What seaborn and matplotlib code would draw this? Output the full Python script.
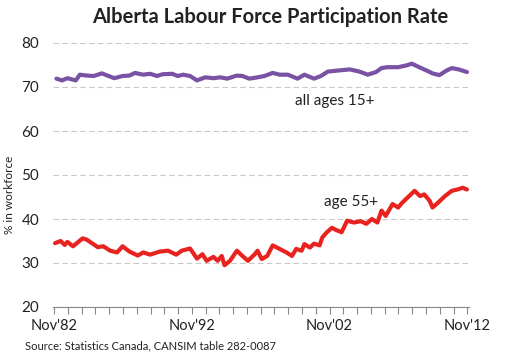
import pandas as pd
import numpy as np
import matplotlib
matplotlib.use('Agg')
import matplotlib.pyplot as plt
import seaborn as sns

# Alberta participation rate (decimal years)
years_all = [1983.0, 1983.4, 1983.8, 1984.4, 1984.7, 1985.2, 1985.7, 1986.3, 1986.7, 1987.2,
             1987.8, 1988.3, 1988.7, 1989.3, 1989.8, 1990.3, 1990.7, 1991.4, 1991.8, 1992.2,
             1992.7, 1993.2, 1993.8, 1994.4, 1994.9, 1995.4, 1996.1, 1996.5, 1997.0, 1997.6,
             1998.1, 1998.7, 1999.2, 1999.8, 2000.5, 2001.0, 2001.7, 2002.2, 2002.7, 2003.3,
             2004.3, 2005.0, 2005.6, 2006.2, 2006.6, 2007.0, 2007.8, 2008.4, 2008.8, 2009.2,
             2009.9, 2010.3, 2010.8, 2011.3, 2011.7, 2012.2, 2012.8]
rate_all = [71.9, 71.5, 72.0, 71.5, 72.8, 72.6, 72.5, 73.1, 72.6, 72.0,
            72.5, 72.6, 73.2, 72.8, 73.0, 72.5, 72.9, 73.0, 72.5, 72.8,
            72.5, 71.5, 72.2, 72.0, 72.2, 71.9, 72.6, 72.5, 71.9, 72.2,
            72.5, 73.2, 72.8, 72.8, 71.9, 72.8, 71.9, 72.5, 73.5, 73.7,
            74.0, 73.5, 72.8, 73.4, 74.3, 74.5, 74.5, 74.9, 75.3, 74.7,
            73.7, 73.1, 72.7, 73.7, 74.3, 74.0, 73.4]

years_55 = [1982.9, 1983.3, 1983.6, 1983.8, 1984.2, 1984.9, 1985.2, 1986.0, 1986.4, 1986.9,
            1987.4, 1987.8, 1988.3, 1988.9, 1989.3, 1989.8, 1990.5, 1991.1, 1991.7, 1992.1,
            1992.7, 1993.2, 1993.6, 1993.9, 1994.4, 1994.7, 1995.0, 1995.2, 1995.6, 1996.1,
            1996.5, 1996.9, 1997.4, 1997.6, 1997.9, 1998.3, 1998.7, 1999.2, 1999.7, 2000.1,
            2000.4, 2000.8, 2001.0, 2001.4, 2001.7, 2002.1, 2002.3, 2002.6, 2003.0, 2003.3,
            2003.7, 2004.1, 2004.6, 2005.1, 2005.5, 2005.9, 2006.3, 2006.6, 2006.9, 2007.4,
            2007.8, 2008.1, 2008.6, 2009.0, 2009.4, 2009.7, 2010.1, 2010.3, 2010.7, 2011.2,
            2011.7, 2012.1, 2012.5, 2012.8]
rate_55 = [34.5, 35.0, 34.1, 34.8, 33.8, 35.6, 35.3, 33.6, 33.8, 32.8,
           32.4, 33.8, 32.6, 31.7, 32.4, 31.9, 32.6, 32.8, 31.9, 32.8,
           33.3, 31.0, 32.0, 30.5, 31.4, 30.5, 31.6, 29.5, 30.5, 32.8,
           31.6, 30.5, 32.0, 32.8, 30.9, 31.6, 34.0, 33.2, 32.4, 31.6,
           33.2, 32.8, 34.3, 33.5, 34.4, 34.0, 35.8, 36.9, 38.0, 37.5,
           37.0, 39.6, 39.2, 39.5, 38.9, 40.0, 39.2, 41.9, 40.7, 43.4,
           42.6, 43.7, 45.2, 46.4, 45.2, 45.6, 44.1, 42.6, 43.7, 45.2,
           46.4, 46.7, 47.1, 46.7]

tick_years = [1982.83, 1992.83, 2002.83, 2012.83]
tick_labels = ["Nov'82", "Nov'92", "Nov'02", "Nov'12"]

sns.set_style('white')
plt.rcParams['font.family'] = ['Lato', 'DejaVu Sans']

df = pd.concat([
    pd.DataFrame({'year': years_all, 'rate': rate_all, 'group': 'all ages 15+'}),
    pd.DataFrame({'year': years_55, 'rate': rate_55, 'group': 'age 55+'}),
])

fig = plt.figure(figsize=(5.12, 3.57), dpi=100)
ax = fig.add_axes([53 / 512, 1 - 307 / 357, 416 / 512, 264 / 357])

sns.lineplot(data=df, x='year', y='rate', hue='group',
             palette={'all ages 15+': '#7a52a4', 'age 55+': '#e8231f'},
             linewidth=3.0, legend=False, ax=ax)

ax.set_xlim(1982.75, 2012.95)
ax.set_ylim(20, 80)
ax.set_yticks([20, 30, 40, 50, 60, 70, 80])
ax.yaxis.grid(True, color='#c8c8c8', linestyle=(0, (5, 3)), linewidth=0.8)
ax.set_axisbelow(True)
ax.tick_params(axis='y', length=0, labelsize=11, pad=10, colors='#222222')

ax.set_xticks(tick_years)
ax.set_xticklabels(tick_labels)
ax.set_xticks(np.arange(1983.83, 2012.0, 1.0), minor=True)
ax.tick_params(axis='x', which='both', direction='out', length=5, width=0.8,
               color='#888888', labelsize=10.5, pad=4, labelcolor='#222222')
ax.xaxis.set_ticks_position('bottom')

for s in ['top', 'right', 'left']:
    ax.spines[s].set_visible(False)
ax.spines['bottom'].set_color('#888888')
ax.spines['bottom'].set_linewidth(0.8)
ax.set_xlabel('')
ax.set_ylabel('')

ax.text(2003.2, 66.8, 'all ages 15+', fontsize=11, ha='center', va='center', color='#222222')
ax.text(2004.4, 43.9, 'age 55+', fontsize=11, ha='center', va='center', color='#222222')

fig.text(270 / 512, 1 - 17 / 357, 'Alberta Labour Force Participation Rate',
         fontsize=14.5, fontweight='bold', ha='center', va='center', color='#222222')
fig.text(10 / 512, 1 - 195 / 357, '% in workforce', rotation=90, fontsize=8.5,
         ha='center', va='center', color='#222222')
fig.text(25 / 512, 1 - 346 / 357, 'Source: Statistics Canada, CANSIM table 282-0087',
         fontsize=8, ha='left', va='center', color='#222222')

fig.savefig('out.png', dpi=100)
